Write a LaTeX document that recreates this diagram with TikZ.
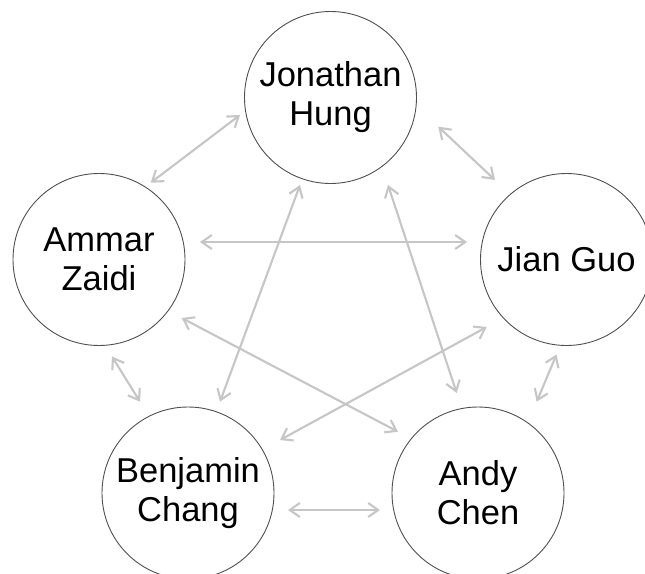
\documentclass[tikz,border=0pt]{standalone}
\usepackage{fontspec}
\setmainfont{Liberation Sans}
\usetikzlibrary{arrows.meta,calc}
\definecolor{linkgray}{RGB}{198,198,198}
\definecolor{rimgray}{RGB}{80,80,80}
\begin{document}
\begin{tikzpicture}[x=1pt,y=-1pt,
  person/.style={circle,draw=rimgray,line width=0.9pt,minimum size=172pt,inner sep=0pt,
    align=center,font=\fontsize{34.5}{39}\selectfont},
  link/.style={draw=linkgray,line width=2.1pt,
    {Straight Barb[length=10pt,width=14pt]}-{Straight Barb[length=10pt,width=14pt]}}]
\fill[white] (0,0) rectangle (645,573);
\useasboundingbox (0,0) rectangle (645,573);

\node[person] (J) at (330.5,97.5) {Jonathan\\Hung};
\node[person] (A) at (99,259.5) {Ammar\\Zaidi};
\node[person] (G) at (566.5,259.5) {Jian Guo};
\node[person] (B) at (188,493) {Benjamin\\Chang};
\node[person] (C) at (478,493) {Andy\\Chen};

\draw[link] ($(J)+(-90.5,17.5)$) -- ($(A)+(51.7,-76.8)$);
\draw[link] ($(J)+(107.8,29.2)$) -- ($(G)+(-71.5,-79.5)$);
\draw[link] ($(J)+(-30.5,87.5)$) -- ($(B)+(32,-91.3)$);
\draw[link] ($(J)+(57.5,87.5)$) -- ($(C)+(-21.3,-100)$);
\draw[link] ($(A)+(101,-17.5)$) -- ($(G)+(-99.5,-17.5)$);
\draw[link] ($(A)+(82.7,58.5)$) -- ($(C)+(-80,-61.3)$);
\draw[link] ($(G)+(-79.8,67.5)$) -- ($(B)+(92,-53)$);
\draw[link] ($(A)+(13,97)$) -- ($(B)+(-48,-91.3)$);
\draw[link] ($(G)+(-10,95)$) -- ($(C)+(58.7,-91.3)$);
\draw[link] ($(B)+(100,17)$) -- ($(C)+(-98,17)$);
\end{tikzpicture}
\end{document}
